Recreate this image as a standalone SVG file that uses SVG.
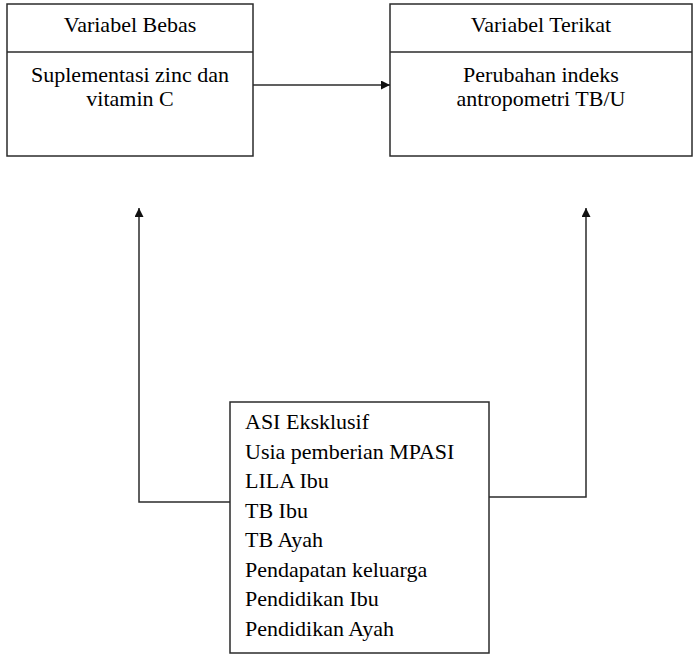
<svg xmlns="http://www.w3.org/2000/svg" width="693" height="654" viewBox="0 0 693 654">
<defs>
<marker id="ah" viewBox="0 0 10 10" refX="10" refY="5" markerWidth="10" markerHeight="9" markerUnits="userSpaceOnUse" orient="auto">
<path d="M0,0 L10,5 L0,10 z" fill="#111"/>
</marker>
</defs>
<rect width="693" height="654" fill="#ffffff"/>
<g id="bebas">
<rect x="7" y="4" width="246" height="152" fill="#ffffff" stroke="#2b2b2b" stroke-width="1.5"/>
<line x1="7" y1="52" x2="253" y2="52" stroke="#2b2b2b" stroke-width="1.5"/>
<text font-family="Liberation Serif" font-size="22" text-anchor="middle" x="130" y="32">Variabel Bebas</text>
<text font-family="Liberation Serif" font-size="22" text-anchor="middle" x="130" y="82">Suplementasi zinc dan</text>
<text font-family="Liberation Serif" font-size="22" text-anchor="middle" x="130" y="106">vitamin C</text>
</g>
<g id="terikat">
<rect x="390" y="4" width="302" height="152" fill="#ffffff" stroke="#2b2b2b" stroke-width="1.5"/>
<line x1="390" y1="52" x2="692" y2="52" stroke="#2b2b2b" stroke-width="1.5"/>
<text font-family="Liberation Serif" font-size="22" text-anchor="middle" x="541" y="32">Variabel Terikat</text>
<text font-family="Liberation Serif" font-size="22" text-anchor="middle" x="541" y="82">Perubahan indeks</text>
<text font-family="Liberation Serif" font-size="22" text-anchor="middle" x="541" y="106">antropometri TB/U</text>
</g>
<g id="perancu">
<rect x="230" y="402" width="259" height="251" fill="#ffffff" stroke="#2b2b2b" stroke-width="1.5"/>
<text font-family="Liberation Serif" font-size="22" x="245" y="429">ASI Eksklusif</text>
<text font-family="Liberation Serif" font-size="22" x="245" y="458.5">Usia pemberian MPASI</text>
<text font-family="Liberation Serif" font-size="22" x="245" y="488">LILA Ibu</text>
<text font-family="Liberation Serif" font-size="22" x="245" y="517.5">TB Ibu</text>
<text font-family="Liberation Serif" font-size="22" x="245" y="547">TB Ayah</text>
<text font-family="Liberation Serif" font-size="22" x="245" y="576.5">Pendapatan keluarga</text>
<text font-family="Liberation Serif" font-size="22" x="245" y="606">Pendidikan Ibu</text>
<text font-family="Liberation Serif" font-size="22" x="245" y="635.5">Pendidikan Ayah</text>
</g>
<g id="connectors" fill="none" stroke="#2b2b2b" stroke-width="1.5">
<line x1="253" y1="85" x2="390" y2="85" marker-end="url(#ah)"/>
<polyline points="230,502 139,502 139,208" marker-end="url(#ah)"/>
<polyline points="489,497 586,497 586,208" marker-end="url(#ah)"/>
</g>
</svg>
